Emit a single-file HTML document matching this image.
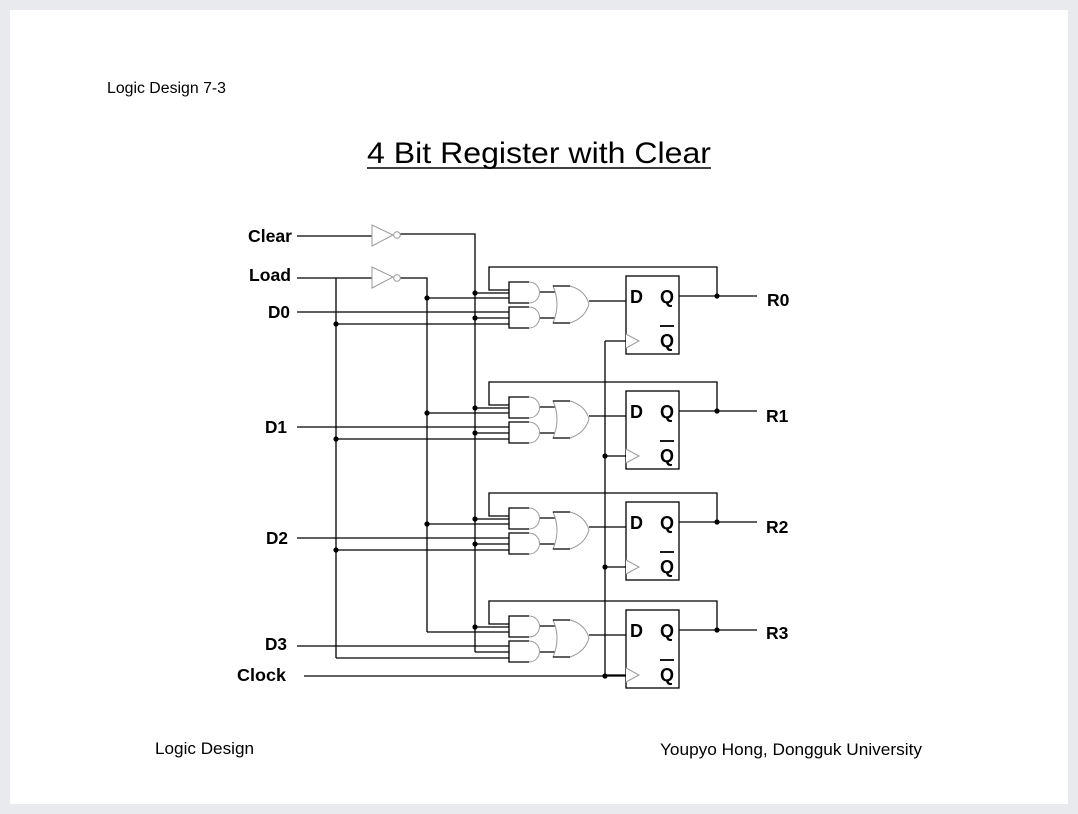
<!DOCTYPE html>
<html><head><style>
body{margin:0;background:#e9eaee;}
#pg{position:absolute;left:10px;top:10px;width:1058px;height:794px;background:#fff;}
svg{position:absolute;left:0;top:0;}
text{font-family:"Liberation Sans",Arial,sans-serif;}
.w{stroke:#000;stroke-width:1.3;fill:none;}
.g{stroke:#999;stroke-width:1;fill:#fff;}
.b{font-weight:bold;font-size:18px;}
</style></head><body>
<div id="pg"></div>
<svg width="1078" height="814" viewBox="0 0 1078 814">
<text x="107" y="93" font-size="15.5" textLength="119" lengthAdjust="spacingAndGlyphs">Logic Design 7-3</text>
<text x="367" y="163" font-size="30" textLength="344" lengthAdjust="spacingAndGlyphs">4 Bit Register with Clear</text>
<line x1="367" y1="168" x2="711" y2="168" stroke="#000" stroke-width="1.6"/>
<text x="155" y="754" font-size="16.5" textLength="99" lengthAdjust="spacingAndGlyphs">Logic Design</text>
<text x="660" y="755" font-size="16.5" textLength="262" lengthAdjust="spacingAndGlyphs">Youpyo Hong, Dongguk University</text>

<g font-weight="bold" font-size="17.5">
<text x="248" y="242" textLength="44" lengthAdjust="spacingAndGlyphs">Clear</text>
<text x="249" y="281" textLength="42" lengthAdjust="spacingAndGlyphs">Load</text>
<text x="268" y="318" textLength="22" lengthAdjust="spacingAndGlyphs">D0</text>
<text x="265" y="433" textLength="22" lengthAdjust="spacingAndGlyphs">D1</text>
<text x="266" y="544" textLength="22" lengthAdjust="spacingAndGlyphs">D2</text>
<text x="265" y="650" textLength="22" lengthAdjust="spacingAndGlyphs">D3</text>
<text x="237" y="681" textLength="49" lengthAdjust="spacingAndGlyphs">Clock</text>
<text x="767" y="306">R0</text>
<text x="766" y="422">R1</text>
<text x="766" y="533">R2</text>
<text x="766" y="639">R3</text>
</g>

<path class="w" d="M297,236 H372 M400,234 H475 V652 M297,278 H372 M400,278 H427 V632 M336,278 V658 M605,341 V676 M304,676 H626"/>
<circle cx="605" cy="676" r="2.6"/>
<path class="g" d="M372,225 L393,235 L372,246 Z"/><circle class="g" cx="397" cy="235" r="3.3"/>
<path class="g" d="M372,267 L393,277 L372,288 Z"/><circle class="g" cx="397" cy="278" r="3.3"/>

<defs>
<g id="st">
<path class="w" d="M717,296 V267 H489 V290 H509 M475,293 H509 M427,298 H509 M297,312 H509 M475,318 H509 M336,324 H509 M540,292 H556 M540,318 H556 M589,301 H626 M605,341 H626 M679,296 H757"/>
<path class="g" d="M529,282 A10.5,10.5 0 0 1 529,303" />
<path class="g" d="M529,307 A10.5,10.5 0 0 1 529,328" />
<path class="w" d="M529,282 H509 V303 H529 M529,307 H509 V328 H529"/>
<path class="g" d="M553,286 H570 Q585,290 589,304 Q585,318 570,323 H553 Q561,304 553,286 Z"/>
<path class="w" d="M553,286 H570 M553,323 H570" stroke-width="1.2"/>
<rect class="w" x="626" y="276" width="53" height="78"/>
<path class="g" d="M626,334 L639,341 L626,348" fill="none"/>
<circle cx="717" cy="296" r="2.6"/>
<line x1="660" y1="326" x2="674" y2="326" stroke="#000" stroke-width="1.8"/>
</g>
<g id="dots">
<circle cx="475" cy="293" r="2.6"/><circle cx="427" cy="298" r="2.6"/>
<circle cx="475" cy="318" r="2.6"/><circle cx="336" cy="324" r="2.6"/>
</g>
</defs>
<use href="#st"/><use href="#dots"/>
<g transform="translate(0,115)"><use href="#st"/><use href="#dots"/><circle cx="605" cy="341" r="2.6"/></g>
<g transform="translate(0,226)"><use href="#st"/><use href="#dots"/><circle cx="605" cy="341" r="2.6"/></g>
<g transform="translate(0,334)"><use href="#st"/><circle cx="475" cy="293" r="2.6"/></g>

<text class="b" x="630" y="303">D</text><text class="b" x="660" y="303">Q</text><text class="b" x="660" y="347">Q</text>
<text class="b" x="630" y="418">D</text><text class="b" x="660" y="418">Q</text><text class="b" x="660" y="462">Q</text>
<text class="b" x="630" y="529">D</text><text class="b" x="660" y="529">Q</text><text class="b" x="660" y="573">Q</text>
<text class="b" x="630" y="637">D</text><text class="b" x="660" y="637">Q</text><text class="b" x="660" y="681">Q</text>
</svg>
</body></html>
